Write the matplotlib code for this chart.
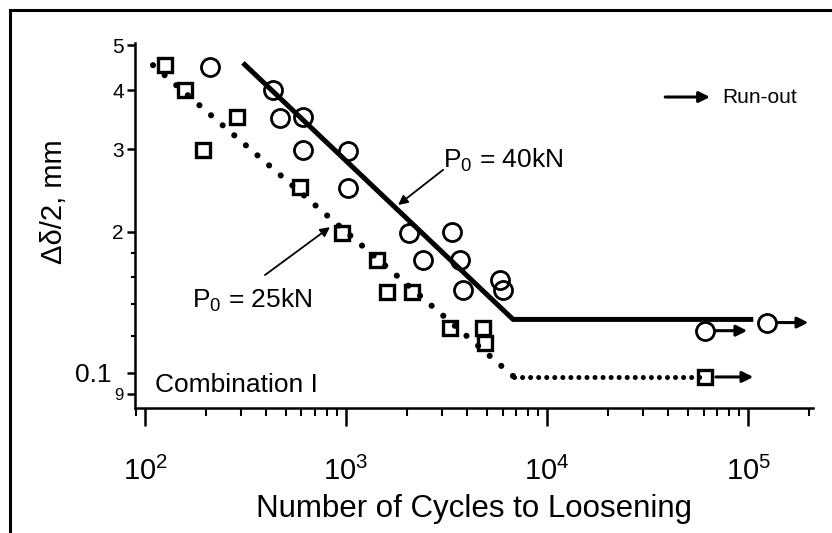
import matplotlib
matplotlib.use("Agg")
import matplotlib.pyplot as plt
from matplotlib.lines import Line2D
from matplotlib.ticker import FixedLocator, NullFormatter

plt.rcParams['font.family'] = ['Liberation Sans', 'DejaVu Sans']
plt.rcParams['mathtext.fontset'] = 'custom'
plt.rcParams['mathtext.rm'] = 'Liberation Sans'
plt.rcParams['mathtext.it'] = 'Liberation Sans:italic'

# ---- data ----
cycles_40 = [210, 433, 470, 611, 611, 1024, 1024, 2056, 3367, 2417, 3690, 3822, 5833, 6040]
disp_40 = [4.49, 4.01, 3.49, 3.51, 2.99, 2.97, 2.48, 1.99, 2.00, 1.74, 1.74, 1.50, 1.58, 1.50]
runout_cycles_40 = [61100, 124500]
runout_disp_40 = [1.23, 1.28]
runout_end_40 = [98900, 199000]

cycles_25 = [126, 158, 287, 194, 590, 955, 1425, 1600, 2130, 3290, 4810, 4920]
disp_25 = [4.53, 4.00, 3.51, 2.99, 2.49, 1.99, 1.74, 1.49, 1.49, 1.245, 1.245, 1.16]
runout_cycles_25 = [61100]
runout_disp_25 = [0.98]
runout_end_25 = [106000]

fit40_cycles = [307, 6770, 106000]
fit40_disp = [4.58, 1.30, 1.30]
fit25_slope_cycles = [109.6, 6855]
fit25_slope_disp = [4.53, 0.98]
fit25_flat_cycles = [6855, 61100]
fit25_flat_disp = [0.98, 0.98]

x_ticks = [1e2, 1e3, 1e4, 1e5]
x_tick_labels = [r'$\mathregular{10^{2}}$', r'$\mathregular{10^{3}}$',
                 r'$\mathregular{10^{4}}$', r'$\mathregular{10^{5}}$']
y_ticks = [5, 4, 3, 2, 1.0, 0.9]
y_tick_labels = ['5', '4', '3', '2', '0.1', '9']
y_minor = [1.2, 1.4, 1.6, 1.8]

W, H = 832, 533
fig = plt.figure(figsize=(W / 100, H / 100), dpi=100)
ax = fig.add_axes([135 / W, 1 - 408 / H, (813 - 135) / W, (408 - 43) / H])
ax.set_xscale('log')
ax.set_yscale('log')
ax.set_xlim(89.2, 210000)
ax.set_ylim(0.8415, 5.05)

for s in ['top', 'right']:
    ax.spines[s].set_visible(False)
for s in ['left', 'bottom']:
    ax.spines[s].set_linewidth(1.8)

# fit lines
ax.plot(fit40_cycles, fit40_disp, color='black', lw=3.6, solid_capstyle='butt', zorder=2)
ax.plot(fit25_slope_cycles, fit25_slope_disp, color='black', lw=4.4,
        linestyle=(0, (0.01, 2.5)), dash_capstyle='round', zorder=2)
ax.plot(fit25_flat_cycles, fit25_flat_disp, color='black', lw=3.6,
        linestyle=(0, (0.01, 1.6)), dash_capstyle='round', zorder=2)

# data points
ax.plot(cycles_40, disp_40, linestyle='none', marker='o', ms=13, mfc='none',
        mec='black', mew=2.0, zorder=3)
ax.plot(cycles_25, disp_25, linestyle='none', marker='s', ms=10, mfc='none',
        mec='black', mew=2.4, zorder=3)
ax.plot(runout_cycles_40, runout_disp_40, linestyle='none', marker='o', ms=13,
        mfc='none', mec='black', mew=2.0, zorder=3)
ax.plot(runout_cycles_25, runout_disp_25, linestyle='none', marker='s', ms=10,
        mfc='none', mec='black', mew=2.4, zorder=3)

# run-out arrows
for x0, y0, x1 in zip(runout_cycles_40 + runout_cycles_25,
                      runout_disp_40 + runout_disp_25,
                      runout_end_40 + runout_end_25):
    ax.annotate('', xy=(x1, y0), xytext=(x0 * 1.13, y0),
                arrowprops=dict(arrowstyle='-|>', lw=2.2, color='black',
                                mutation_scale=16, shrinkA=0, shrinkB=0))

# run-out legend
ax.annotate('', xy=(0.848, 0.852), xytext=(0.782, 0.852), xycoords='axes fraction',
            textcoords='axes fraction',
            arrowprops=dict(arrowstyle='-|>', lw=2.2, color='black',
                            mutation_scale=16, shrinkA=0, shrinkB=0))
ax.text(0.866, 0.852, 'Run-out', transform=ax.transAxes, fontsize=15,
        ha='left', va='center')

# load annotations
ax.text(3041, 2.84, r'P$_{\mathregular{0}}$ = 40kN', fontsize=19, ha='left', va='center')
ax.annotate('', xy=(1815, 2.28), xytext=(3041, 2.71),
            arrowprops=dict(arrowstyle='-|>', lw=1.3, color='black',
                            mutation_scale=14, shrinkA=0, shrinkB=0))
ax.text(171, 1.43, r'P$_{\mathregular{0}}$ = 25kN', fontsize=19, ha='left', va='center')
ax.annotate('', xy=(832, 2.045), xytext=(395, 1.616),
            arrowprops=dict(arrowstyle='-|>', lw=1.3, color='black',
                            mutation_scale=14, shrinkA=0, shrinkB=0))

ax.text(0.0295, 0.063, 'Combination I', transform=ax.transAxes, fontsize=19,
        ha='left', va='center')

# x axis ticks
ax.xaxis.set_major_locator(FixedLocator(x_ticks))
ax.set_xticklabels(x_tick_labels)
ax.tick_params(axis='x', which='major', direction='out', length=13, width=1.8,
               labelsize=21, pad=22)
ax.tick_params(axis='x', which='minor', direction='out', length=6, width=1.5)
ax.xaxis.set_minor_formatter(NullFormatter())
ax.set_xlabel('Number of Cycles to Loosening', fontsize=22.5, labelpad=6)

# y axis ticks
ax.yaxis.set_major_locator(FixedLocator(y_ticks))
ax.yaxis.set_minor_locator(FixedLocator(y_minor))
ax.yaxis.set_minor_formatter(NullFormatter())
ax.set_yticklabels(y_tick_labels)
ax.tick_params(axis='y', which='major', direction='out', length=6, width=1.8,
               labelsize=15, pad=2)
ax.tick_params(axis='y', which='minor', direction='out', length=3, width=1.5)
sizes = [15, 15, 15, 15, 19, 12]
for lbl, fs in zip(ax.get_yticklabels(), sizes):
    lbl.set_fontsize(fs)
yt = ax.yaxis.get_major_ticks()
yt[4].tick1line.set_markersize(11)
yt[4].set_pad(11)

fig.text(54 / W, 1 - 202 / H, 'Δδ/2, mm', rotation=90, fontsize=21,
         ha='center', va='center')

# outer frame (left and top edges)
fig.add_artist(Line2D([10 / W, 10 / W], [0, 1 - 10 / H], transform=fig.transFigure,
                      color='black', lw=2.2))
fig.add_artist(Line2D([10 / W, 1], [1 - 10 / H, 1 - 10 / H], transform=fig.transFigure,
                      color='black', lw=2.2))

fig.savefig('out.png', dpi=100)
